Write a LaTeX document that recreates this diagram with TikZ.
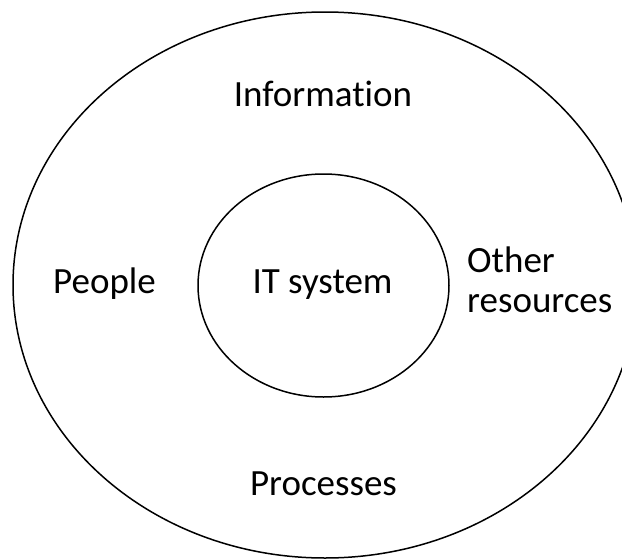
\documentclass[tikz,border=0pt]{standalone}
\usepackage{fontspec}
\setmainfont[Ligatures=CommonOff]{Carlito}
\usetikzlibrary{shapes.geometric}
\tikzset{
  ring/.style={draw=black, line width=1.5pt, ellipse, inner sep=0pt},
  lbl/.style={inner sep=0pt, font=\fontsize{37}{40}\selectfont}
}
\begin{document}
\begin{tikzpicture}[x=1pt,y=-1pt]
\clip (0,0) rectangle (622,560);
\useasboundingbox (0,0) rectangle (622,560);
\node[ring, minimum width=624pt, minimum height=546pt] (outer) at (325,285) {};
\node[ring, minimum width=251pt, minimum height=223pt] (inner) at (323.5,285.5) {};
\node[lbl, anchor=base] (info) at (323,106) {Information};
\node[lbl, anchor=base west] (people) at (53,293) {People};
\node[lbl, anchor=base] (it) at (322.5,293) {IT system};
\node[lbl, anchor=base west] (other) at (467,272) {Other};
\node[lbl, anchor=base west] (res) at (467,312) {resources};
\node[lbl, anchor=base] (proc) at (323.5,495) {Processes};
\end{tikzpicture}
\end{document}
